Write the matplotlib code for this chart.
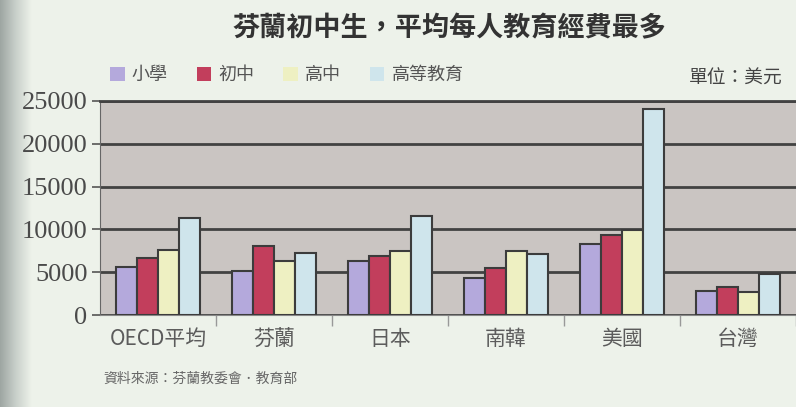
import numpy as np
import matplotlib.pyplot as plt
from matplotlib.patches import Patch
from matplotlib.colors import LinearSegmentedColormap

plt.rcParams['font.family'] = ['Noto Sans CJK TC', 'DejaVu Sans']

# data (US dollars per student)
countries = ["OECD平均", "芬蘭", "日本", "南韓", "美國", "台灣"]
levels = ["小學", "初中", "高中", "高等教育"]
primary = [5600, 5100, 6300, 4300, 8300, 2800]
lower_secondary = [6700, 8100, 6900, 5500, 9300, 3250]
upper_secondary = [7600, 6300, 7450, 7500, 9950, 2700]
tertiary = [11300, 7200, 11550, 7100, 24100, 4800]
yticks = [0, 5000, 10000, 15000, 20000, 25000]

series = [primary, lower_secondary, upper_secondary, tertiary]
colors = ["#b4a9dc", "#c23e5c", "#eef0c2", "#cfe5ec"]
bg = "#edf2ea"

fig = plt.figure(figsize=(7.96, 4.07), dpi=100)
fig.patch.set_facecolor(bg)

# scanned page shadow on the left edge
shade = fig.add_axes([0, 0, 0.04, 1], zorder=-5)
cm = LinearSegmentedColormap.from_list("shade", ["#9ea6a2", "#c9d0cb", bg])
shade.imshow(np.linspace(0, 1, 60).reshape(1, -1), aspect="auto", cmap=cm,
             extent=[0, 1, 0, 1])
shade.axis("off")

ax = fig.add_axes([0.1256, 0.226, 0.8744, 0.526])
ax.set_facecolor("#cac5c2")

x = np.arange(len(countries))
w = 0.18
for i, (vals, c) in enumerate(zip(series, colors)):
    ax.bar(x + (i - 1.5) * w, vals, width=w, color=c, edgecolor="#3c3c3c",
           linewidth=1.5, zorder=3, label=levels[i])

ax.set_xlim(-0.5, len(countries) - 0.5)
ax.set_ylim(0, 25000)
ax.set_yticks(yticks)
ax.set_yticklabels([str(t) for t in yticks], family="Liberation Serif",
                   fontsize=19, color="#4a4a4a")
ax.yaxis.grid(True, color="#424242", linewidth=2)
ax.set_axisbelow(True)

# group labels centred, ticks at group borders
ax.set_xticks(x)
ax.set_xticklabels(countries, fontsize=15, color="#5c5c5c")
ax.tick_params(axis="x", length=0, pad=9)
ax.set_xticks(np.arange(len(countries)) + 0.5, minor=True)
ax.tick_params(axis="x", which="minor", length=8, color="#999999", width=1)
ax.tick_params(axis="y", length=6, color="#555555", width=1.2, pad=3)

ax.spines["right"].set_visible(False)
ax.spines["top"].set_color("#424242")
ax.spines["top"].set_linewidth(2)
ax.spines["left"].set_color("#666666")
ax.spines["bottom"].set_color("#888888")

fig.text(0.565, 0.93, "芬蘭初中生，平均每人教育經費最多", ha="center", va="center",
         fontsize=19.5, fontweight="bold", color="#333333")

handles = [Patch(facecolor=c, edgecolor="none") for c in colors]
fig.legend(handles, levels, loc="center left", bbox_to_anchor=(0.118, 0.815),
           ncol=4, frameon=False, fontsize=13, handlelength=0.8, handleheight=0.8,
           handletextpad=0.4, columnspacing=1.6, labelcolor="#555555")

fig.text(0.866, 0.808, "單位：美元", ha="left", va="center", fontsize=13.5, color="#444444")
fig.text(0.13, 0.069, "資料來源：芬蘭教委會．教育部", ha="left", va="center",
         fontsize=10, color="#666666")

plt.savefig("out.png", dpi=100, facecolor=fig.get_facecolor())
plt.close()
